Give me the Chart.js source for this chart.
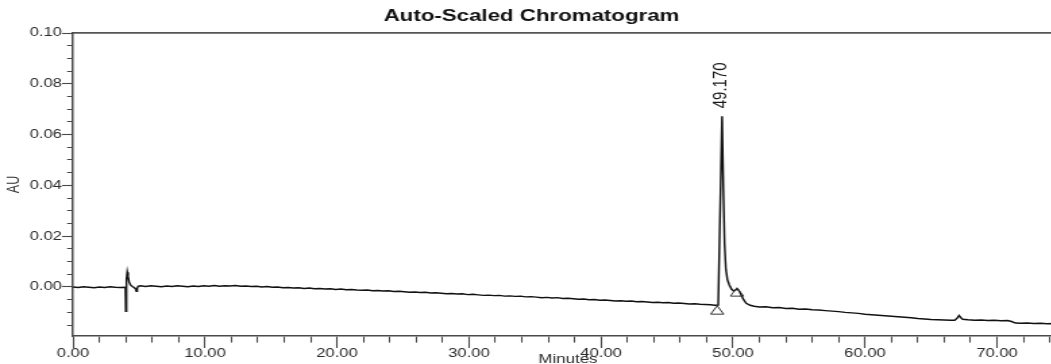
<!DOCTYPE html>
<html>
<head>
<meta charset="utf-8">
<script src="https://cdn.jsdelivr.net/npm/chart.js@4.4.1/dist/chart.umd.min.js"></script>
<style>
  html, body { margin: 0; padding: 0; background: #fff; overflow: hidden; width: 1051px; height: 364px; }
  /* printout proportions: the plot is drawn narrow and widened horizontally */
  #wrap { position: absolute; left: 0; top: 0; width: 800px; height: 364px; transform: scaleX(1.35); transform-origin: 0 0; }
</style>
</head>
<body>
<div id="wrap"><canvas id="chroma"></canvas></div>
<script>
// Detector trace: run time (min) and absorbance (AU)
const runTime = [
  0.0, 0.4, 0.8, 1.2, 1.6, 2.0, 2.4, 2.8, 3.2, 3.6, 3.9, 3.97,
  4.00, 4.03, 4.07, 4.11, 4.17, 4.25, 4.35, 4.50, 4.65, 4.75, 4.80, 4.86, 4.93,
  5.1, 5.5, 5.9, 6.3, 6.7, 7.1, 7.5, 7.9, 8.3, 8.7, 9.1, 9.5, 9.9,
  10.3, 10.7, 11.1, 11.5, 11.9, 12.3, 12.7, 13.1, 13.5, 13.9, 14.3, 14.7,
  15.1, 15.5, 15.9, 16.3, 16.7, 17.1, 17.5, 17.9, 18.3, 18.7, 19.1, 19.5, 19.9,
  20.3, 20.7, 21.1, 21.5, 21.9, 22.3, 22.7, 23.1, 23.5, 23.9, 24.3, 24.7,
  25.1, 25.5, 25.9, 26.3, 26.7, 27.1, 27.5, 27.9, 28.3, 28.7, 29.1, 29.5, 29.9,
  30.3, 30.7, 31.1, 31.5, 31.9, 32.3, 32.7, 33.1, 33.5, 33.9, 34.3, 34.7,
  35.1, 35.5, 35.9, 36.3, 36.7, 37.1, 37.5, 37.9, 38.3, 38.7, 39.1, 39.5, 39.9,
  40.3, 40.7, 41.1, 41.5, 41.9, 42.3, 42.7, 43.1, 43.5, 43.9, 44.3, 44.7,
  45.1, 45.5, 45.9, 46.3, 46.7, 47.1, 47.5, 47.9, 48.3, 48.6, 48.88,
  49.17, 49.27, 49.36, 49.46, 49.58, 49.72, 49.88,
  50.05, 50.20, 50.32, 50.45, 50.60, 50.80, 51.00, 51.30, 51.60,
  52.0, 52.5, 53.0, 53.5, 54.0, 54.5, 55.0, 55.5, 56.0, 56.5, 57.0, 57.5, 58.0, 58.5, 59.0, 59.5,
  60.0, 60.5, 61.0, 61.5, 62.0, 62.5, 63.0, 63.5, 64.0, 64.5, 65.0, 65.5, 66.0, 66.5, 66.8,
  67.0, 67.12, 67.25, 67.4, 67.8, 68.3, 68.8, 69.3, 69.8, 70.3, 70.8, 71.1, 71.4, 71.8,
  72.3, 72.8, 73.3, 73.8, 74.3, 74.7, 75.0
];
const absorbance = [
  0.0000, -0.0002, 0.0001, -0.0001, -0.0003, 0.0000, -0.0002, 0.0001, -0.0001, -0.0002, -0.0001, -0.0004,
  -0.0096, -0.0030, 0.0030, 0.0058, 0.0042, 0.0020, 0.0008, 0.0002, -0.0003, -0.0008, -0.0017, -0.0006, 0.0003,
  0.0005, 0.0002, 0.0005, 0.0003, 0.0001, 0.0004, 0.0002, 0.0005, 0.0003, 0.0001, 0.0004, 0.0002, 0.0005,
  0.0003, 0.0006, 0.0003, 0.0005, 0.0004, 0.0006, 0.0003, 0.0004, 0.0002, 0.0003, 0.0000, 0.0002,
  -0.0001, 0.0000, -0.0003, -0.0002, -0.0004, -0.0003, -0.0006, -0.0004, -0.0007, -0.0006, -0.0008, -0.0007, -0.0010,
  -0.0008, -0.0011, -0.0010, -0.0012, -0.0013, -0.0012, -0.0015, -0.0014, -0.0016, -0.0015, -0.0018, -0.0017,
  -0.0019, -0.0021, -0.0020, -0.0022, -0.0021, -0.0024, -0.0023, -0.0025, -0.0027, -0.0026, -0.0028, -0.0027, -0.0030,
  -0.0029, -0.0031, -0.0033, -0.0032, -0.0034, -0.0033, -0.0036, -0.0035, -0.0037, -0.0036, -0.0039, -0.0038,
  -0.0040, -0.0042, -0.0041, -0.0043, -0.0042, -0.0045, -0.0044, -0.0046, -0.0048, -0.0047, -0.0050, -0.0049, -0.0052,
  -0.0051, -0.0053, -0.0055, -0.0054, -0.0056, -0.0055, -0.0058, -0.0057, -0.0059, -0.0061, -0.0060, -0.0062,
  -0.0061, -0.0064, -0.0063, -0.0065, -0.0067, -0.0066, -0.0068, -0.0069, -0.0070, -0.0072, -0.0071,
  0.0672, 0.0380, 0.0170, 0.0070, 0.0028, 0.0008, -0.0008,
  -0.0016, -0.0012, -0.0008, -0.0014, -0.0030, -0.0050, -0.0064, -0.0072, -0.0076,
  -0.0079, -0.0078, -0.0082, -0.0081, -0.0085, -0.0084, -0.0088, -0.0087, -0.0090, -0.0091, -0.0093, -0.0095, -0.0097, -0.0100, -0.0102, -0.0104,
  -0.0107, -0.0109, -0.0111, -0.0113, -0.0115, -0.0117, -0.0119, -0.0121, -0.0124, -0.0126, -0.0128, -0.0129, -0.0130, -0.0131, -0.0131,
  -0.0122, -0.0112, -0.0120, -0.0127, -0.0129, -0.0131, -0.0130, -0.0132, -0.0131, -0.0133, -0.0132, -0.0136, -0.0142, -0.0143,
  -0.0142, -0.0144, -0.0143, -0.0145, -0.0144, -0.0145, -0.0144
];

// Integration marks (peak start / peak end)
const markTime = [48.80, 50.30];
const markAU = [-0.0096, -0.0025];

// Labelled peak
const peakTime = 49.170;
const peakAU = 0.0672;

// Axis ticks
const xMajorTicks = [0, 10, 20, 30, 40, 50, 60, 70];
const xTickLabels = ['0.00', '10.00', '20.00', '30.00', '40.00', '50.00', '60.00', '70.00'];
const yMajorTicks = [0.00, 0.02, 0.04, 0.06, 0.08, 0.10];
const yTickLabels = ['0.00', '0.02', '0.04', '0.06', '0.08', '0.10'];

const X_MIN = 0, X_MAX = 75, X_MINOR = 2;
const Y_MIN = -0.0193, Y_MAX = 0.10, Y_MINOR = 0.005;

const FONT = '"Liberation Sans", Arial, Helvetica, sans-serif';
const AXIS_COLOR = '#4a4a4a';

function labelFor(value, majors, labels, tol) {
  for (let i = 0; i < majors.length; i++) {
    if (Math.abs(value - majors[i]) < tol) return labels[i];
  }
  return '';
}
function isMajor(value, majors, tol) {
  return majors.some(m => Math.abs(value - m) < tol);
}

// Peak retention-time label, written vertically above the apex
const peakLabel = {
  id: 'peakLabel',
  afterDatasetsDraw(chart) {
    const { ctx, scales } = chart;
    const px = scales.x.getPixelForValue(peakTime);
    const py = scales.y.getPixelForValue(peakAU);
    ctx.save();
    ctx.translate(px - 1, py - 8);
    ctx.rotate(-Math.PI / 2);
    ctx.font = '15px ' + FONT;
    ctx.fillStyle = '#1a1a1a';
    ctx.textAlign = 'left';
    ctx.textBaseline = 'middle';
    ctx.fillText(peakTime.toFixed(3), 0, 0);
    ctx.restore();
  }
};

const Y_TICK_LEN = 8.2, Y_MINOR_LEN = 3.8;
const X_TICK_LEN = 12, X_MINOR_LEN = 6;

new Chart(document.getElementById('chroma'), {
  type: 'scatter',
  data: {
    datasets: [
      {
        label: 'Trace',
        data: runTime.map((t, i) => ({ x: t, y: absorbance[i] })),
        showLine: true,
        borderColor: '#111',
        borderWidth: 1.45,
        pointRadius: 0,
        tension: 0,
        order: 1
      },
      {
        label: 'Marks',
        data: markTime.map((t, i) => ({ x: t, y: markAU[i] })),
        showLine: false,
        pointStyle: 'triangle',
        pointRadius: 5.6,
        borderColor: '#333',
        borderWidth: 1,
        backgroundColor: 'rgba(255,255,255,0)',
        order: 0
      }
    ]
  },
  options: {
    responsive: true,
    maintainAspectRatio: false,
    animation: false,
    events: [],
    layout: { padding: { left: 0, right: 12.6, top: 0, bottom: 0 } },
    plugins: {
      legend: { display: false },
      tooltip: { enabled: false },
      title: {
        display: true,
        text: 'Auto-Scaled Chromatogram',
        color: '#111',
        font: { family: FONT, size: 16.5, weight: 'bold' },
        padding: { top: 7, bottom: 6.2 }
      }
    },
    scales: {
      x: {
        type: 'linear',
        position: 'bottom',
        min: X_MIN,
        max: X_MAX,
        afterBuildTicks(scale) {
          const ticks = [];
          for (let v = X_MIN; v <= X_MAX; v += X_MINOR) ticks.push({ value: v });
          scale.ticks = ticks;
        },
        afterFit(scale) { scale.height = 28; },
        grid: {
          drawOnChartArea: false,
          drawTicks: true,
          tickLength: X_TICK_LEN,
          tickColor: AXIS_COLOR,
          tickWidth: 1.1,
          tickBorderDash: ctx => isMajor(ctx.tick.value, xMajorTicks, 1e-6) ? [] : [X_MINOR_LEN, 100]
        },
        border: { display: true, color: AXIS_COLOR, width: 1.6 },
        ticks: {
          autoSkip: false,
          maxRotation: 0,
          padding: -2,
          color: '#2a2a2a',
          font: { family: FONT, size: 12.3 },
          callback: v => labelFor(v, xMajorTicks, xTickLabels, 1e-6)
        },
        title: {
          display: true,
          text: 'Minutes',
          color: '#2a2a2a',
          font: { family: FONT, size: 12.5 },
          padding: { top: 0, bottom: -3.5 }
        }
      },
      x2: {
        type: 'linear',
        position: 'top',
        min: X_MIN,
        max: X_MAX,
        afterFit(scale) { scale.height = 0; },
        grid: { drawOnChartArea: false, drawTicks: false },
        border: { display: true, color: '#555', width: 1.8 },
        ticks: { display: false }
      },
      y: {
        type: 'linear',
        position: 'left',
        min: Y_MIN,
        max: Y_MAX,
        afterBuildTicks(scale) {
          const ticks = [];
          for (let k = -3; k <= 20; k++) ticks.push({ value: +(k * Y_MINOR).toFixed(4) });
          scale.ticks = ticks;
        },
        afterFit(scale) { scale.width = 54.07; },
        grid: {
          drawOnChartArea: false,
          drawTicks: true,
          tickLength: Y_TICK_LEN,
          tickColor: AXIS_COLOR,
          tickWidth: 1.1,
          tickBorderDash: ctx => isMajor(ctx.tick.value, yMajorTicks, 1e-6) ? [] : [0, Y_TICK_LEN - 0.6 - Y_MINOR_LEN, Y_MINOR_LEN + 2, 100]
        },
        border: { display: true, color: AXIS_COLOR, width: 1.5 },
        ticks: {
          autoSkip: false,
          padding: 0,
          color: '#2a2a2a',
          font: { family: FONT, size: 12.3 },
          callback: v => labelFor(v, yMajorTicks, yTickLabels, 1e-6)
        },
        title: {
          display: true,
          text: 'AU',
          color: '#2a2a2a',
          font: { family: FONT, size: 12.5 },
          padding: { top: 3.5, bottom: 0 }
        }
      }
    }
  },
  plugins: [peakLabel]
});
</script>
</body>
</html>
